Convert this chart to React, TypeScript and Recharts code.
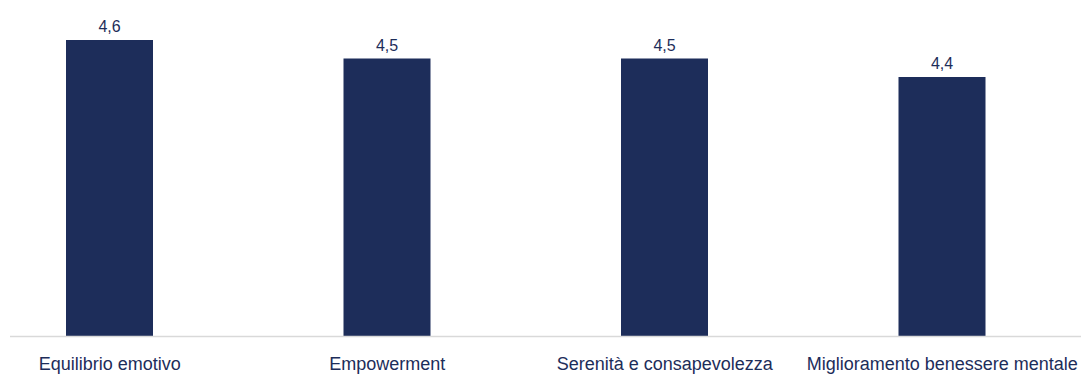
import { BarChart, Bar, XAxis, YAxis, LabelList } from 'recharts';

// categorie e punteggi medi
const categories = [
  'Equilibrio emotivo',
  'Empowerment',
  'Serenità e consapevolezza',
  'Miglioramento benessere mentale',
];
const scores = [4.6, 4.5, 4.5, 4.4];

const NAVY = '#1d2d5a';

const data = categories.map((name, i) => ({ name, value: scores[i] }));

export default function App() {
  return (
    <div>
      <style>{'body { margin: 0; }'}</style>
      <BarChart
        width={1081}
        height={375}
        data={data}
        margin={{ top: 40, right: 0, left: 10, bottom: 0 }}
      >
        <XAxis
          dataKey="name"
          height={38.5}
          padding={{ left: -39, right: 0 }}
          axisLine={{ stroke: '#d9d9d9', strokeWidth: 1.5 }}
          tickLine={false}
          tickSize={0}
          tickMargin={21}
          interval={0}
          tick={{ fill: NAVY, fontSize: 18, fontFamily: 'Liberation Sans, Arial, sans-serif' }}
        />
        <YAxis hide domain={[3, 4.6]} allowDataOverflow />
        <Bar dataKey="value" fill={NAVY} barSize={87} isAnimationActive={false}>
          <LabelList
            dataKey="value"
            position="top"
            offset={8}
            formatter={(v: any) => String(v).replace('.', ',')}
            fill={NAVY}
            fontSize={16}
            fontFamily="Liberation Sans, Arial, sans-serif"
          />
        </Bar>
      </BarChart>
    </div>
  );
}
